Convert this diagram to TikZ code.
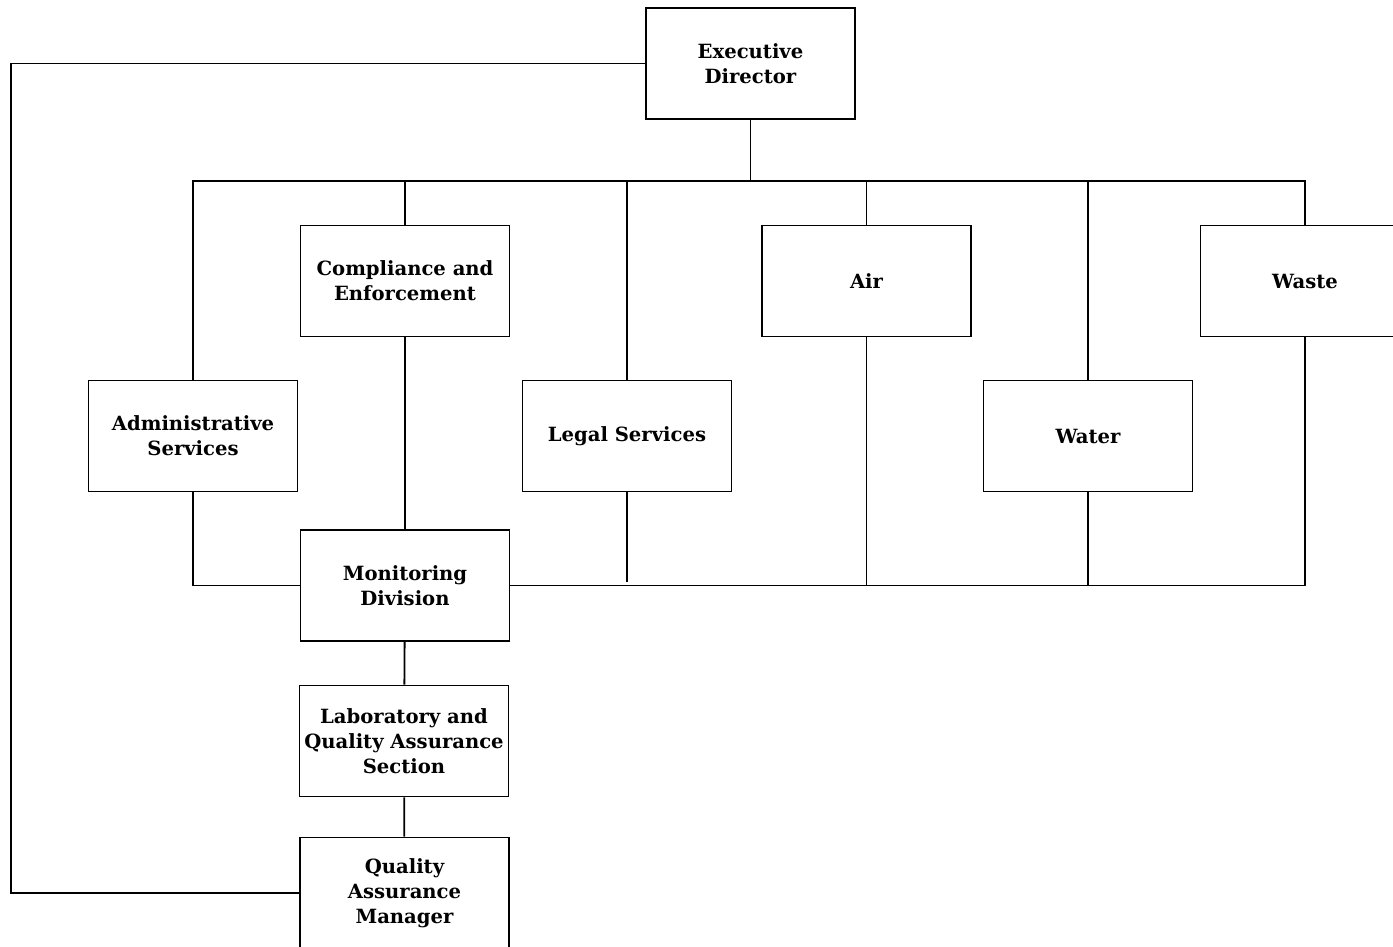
\documentclass[tikz,border=0pt]{standalone}
\usepackage{fontspec}
\setmainfont{DejaVu Serif}
\begin{document}
\begin{tikzpicture}[
    x=0.5pt, y=-0.5pt,
    box/.style={draw, line width=0.9pt, minimum width=104.5pt, minimum height=55.5pt, align=center,
      inner xsep=1pt, font=\bfseries\fontsize{9.8}{12.6}\selectfont},
    link/.style={line width=0.9pt}
  ]
  \useasboundingbox (0,0) rectangle (1393,947);
  \clip (0,0) rectangle (1393,947);

  % Boxes at pixel positions of the chart
  \node[box] (ed) at (750.5,63.5) {Executive\\Director};
  \node[box] (ce) at (405,281) {Compliance and\\Enforcement};
  \node[box] (air) at (866.5,281) {Air};
  \node[box] (waste) at (1305,281) {Waste};
  \node[box] (admin) at (193,436) {Administrative\\Services};
  \node[box] (legal) at (627,436) {Legal Services};
  \node[box] (water) at (1088,436) {Water};
  \node[box] (mon) at (405,585.5) {Monitoring\\Division};
  \node[box] (lab) at (404,741) {Laboratory and\\Quality Assurance\\Section};
  \node[box] (qam) at (404.5,893) {Quality\\Assurance\\Manager};

  \coordinate (top) at (750.5,181);
  \coordinate (lft) at (11,63.5);

  % Upper bus
  \draw[link] (ed) -- (top);
  \draw[link] (admin.north) |- (top -| waste) -- (waste.north);
  \foreach \n in {ce, legal, air, water}
    \draw[link] (\n.north) -- (\n.north |- top);

  % Line round the left side
  \draw[link] (ed.west) -- (lft) |- (qam.west);

  % Lower bus
  \draw[link] (ce) -- (mon);
  \draw[link] (admin.south) |- (mon.west);
  \draw[link] (mon.east) -| (waste.south);
  \draw[link] (air.south) -- (air.south |- mon.east);
  \draw[link] (water.south) -- (water.south |- mon.east);
  \draw[link] (legal.south) -- ([yshift=2pt]legal.south |- mon.east);

  % Down to the manager
  \draw[link] (mon) -- (lab);
  \draw[link] (lab) -- (qam);

\end{tikzpicture}
\end{document}
